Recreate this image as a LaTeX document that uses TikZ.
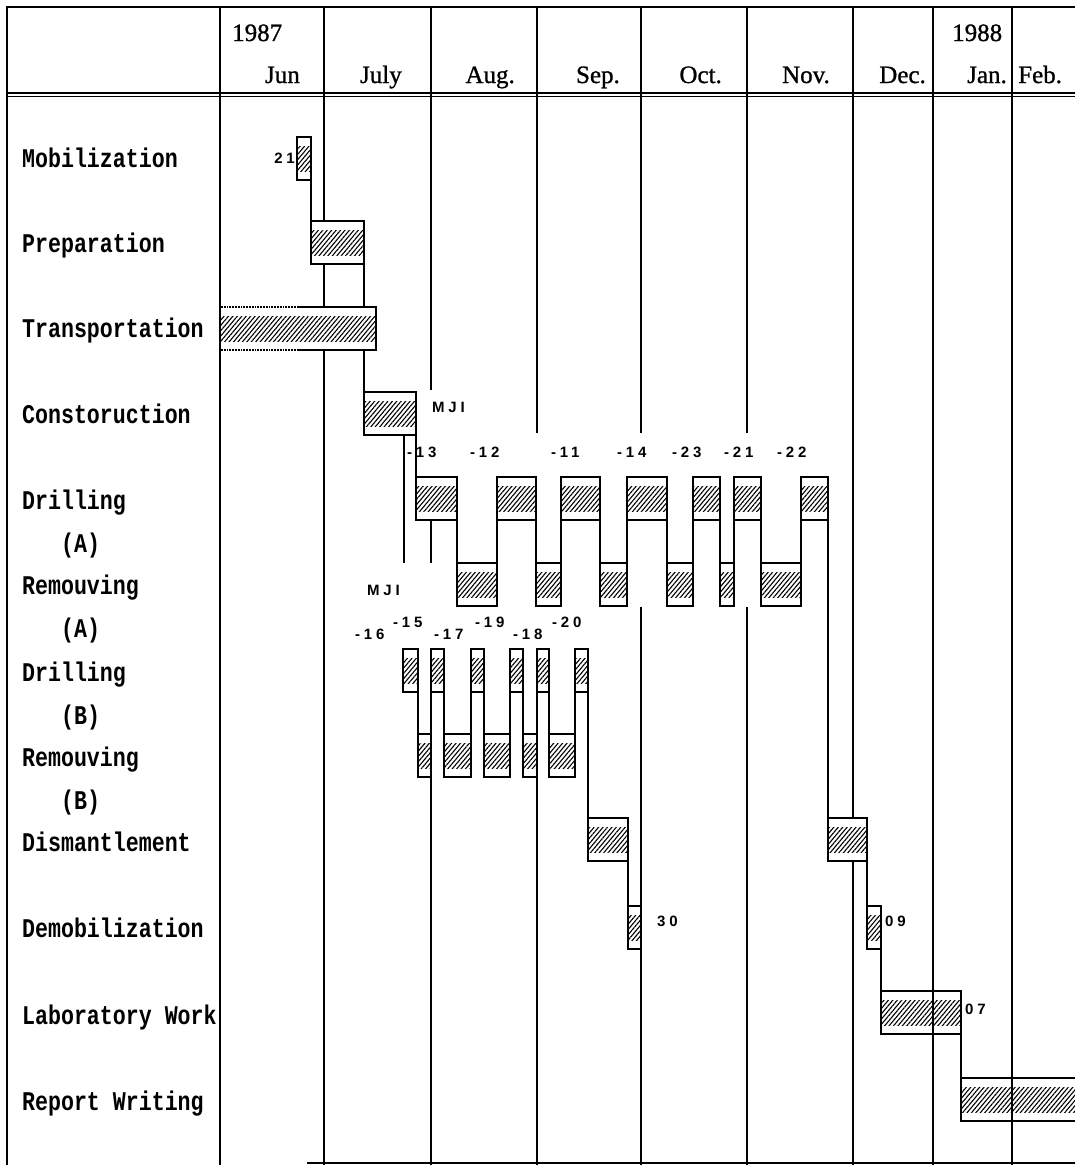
\documentclass[tikz,border=0pt]{standalone}
\usepackage{fontspec}
\usepackage{tikz}
\usetikzlibrary{patterns.meta}
\setmainfont{Liberation Serif}
\newfontfamily\headserif{Liberation Serif}[FakeBold=1]
\newfontfamily\labelmono{Liberation Mono}[FakeStretch=0.8]
\newfontfamily\tagsans{Liberation Sans}[LetterSpace=25]

\begin{document}
\begin{tikzpicture}[x=1pt, y=-1pt,
    gridline/.style={line width=2.3pt},
    boxline/.style={line width=1.8pt},
    linkline/.style={line width=1.9pt},
    hatchband/.style={path picture={\fill[pattern={Lines[angle=50,distance=3.4pt,line width=1.1pt]}]
        ([yshift=12.5pt]path picture bounding box.west) rectangle ([yshift=-12.5pt]path picture bounding box.east);}},
    taskbox/.style={boxline, draw, fill=white, inner sep=0pt, outer sep=0pt, minimum height=43pt, hatchband},
    openbox/.style={boxline, draw, inner sep=0pt, outer sep=0pt, minimum height=43pt, hatchband},
    rowlabel/.style={anchor=base west, inner sep=0pt, font=\labelmono\bfseries\fontsize{27}{30}\selectfont},
    monthlabel/.style={anchor=base east, inner sep=0pt, font=\headserif\fontsize{25}{28}\selectfont},
    tag/.style={anchor=west, inner sep=0pt, font=\tagsans\bfseries\fontsize{15}{17}\selectfont}]

    % Khung trang
    \useasboundingbox (0,0) rectangle (1075,1165);

    % Khung và đường kẻ cột
    \draw[gridline] (7,1165) -- (7,7) -- (1075,7);
    \draw[line width=1.3pt] (7,93) -- (1075,93);
    \draw[line width=1.3pt] (7,96.5) -- (1075,96.5);
    \foreach \x in {220,324,853,933,1012}
        \draw[gridline] (\x,7) -- (\x,1165);
    \foreach \x/\ya/\yb in {431/390/777, 537/433/777, 641/433/607, 747/433/607} {
        \draw[gridline] (\x,7) -- (\x,\ya);
        \draw[gridline] (\x,\yb) -- (\x,1165);
    }
    \draw[gridline] (307,1163) -- (1075,1163);

    % Tiêu đề tháng
    \node[monthlabel, anchor=base west] (y1987) at (232,41) {1987};
    \node[monthlabel, anchor=base west] (y1988) at (952,41) {1988};
    \foreach \nm/\x/\txt in {jun/300/Jun, jul/402/July, aug/515/Aug., sep/620/Sep., oct/722/Oct., nov/830/Nov., dec/926/Dec., jan/1007/Jan.}
        \node[monthlabel] (\nm) at (\x,83) {\txt};
    \node[monthlabel, anchor=base west] (feb) at (1018,83) {Feb.};

    % Nhãn hàng
    \foreach \nm/\lx/\ly/\lt in {lmob/22/167/Mobilization, lprep/22/252/Preparation, ltrans/22/337/Transportation,
            lconst/22/423/Constoruction, ldrA/22/509/Drilling, lA1/61/552/(A), lremA/22/594/Remouving, lA2/61/637/(A),
            ldrB/22/681/Drilling, lB1/61/724/(B), lremB/22/766/Remouving, lB2/61/809/(B), ldism/22/851/Dismantlement,
            ldemob/22/937/Demobilization, llab/22/1024/Laboratory Work, lrep/22/1110/Report Writing}
        \node[rowlabel] (\nm) at (\lx,\ly) {\lt};

    % Các thanh công việc (tên/x trái/x phải/y trên)
    \foreach \nm/\xa/\xb/\yt in {mob/297/311/137, prep/311/364/221, const/364/416/392,
            da1/416/457/477, da2/497/536/477, da3/561/600/477, da4/627/667/477, da5/693/720/477, da6/734/761/477, da7/801/828/477,
            ra1/457/497/563, ra2/536/561/563, ra3/600/627/563, ra4/667/693/563, ra5/720/734/563, ra6/761/801/563,
            db1/403/418/649, db2/431/444/649, db3/471/484/649, db4/510/523/649, db5/537/549/649, db6/575/588/649,
            rb1/418/431/734, rb2/444/471/734, rb3/484/510/734, rb4/523/537/734, rb5/549/575/734,
            dism1/588/628/818, dism2/828/867/818, demob1/628/641/906, demob2/867/881/906} {
        \pgfmathsetmacro{\w}{\xb-\xa}
        \node[taskbox, minimum width=\w pt] (\nm) at ({(\xa+\xb)/2},{\yt+21.5}) {};
    }
    \node[openbox, minimum width=80pt] (lab) at (921,1012.5) {};
    \node[openbox, minimum width=124pt] (rep) at (1023,1099.5) {};

    % Vận chuyển: viền trái chấm
    \node[fill=white, inner sep=0pt, outer sep=0pt, minimum height=43pt, minimum width=155pt, hatchband] (trans) at (298.5,328.5) {};
    \draw[boxline] ([xshift=76pt]trans.north west) -| (trans.south east) -- ([xshift=76pt]trans.south west);
    \draw[boxline, densely dotted] (trans.north west) -- ([xshift=76pt]trans.north west);
    \draw[boxline, densely dotted] (trans.south west) -- ([xshift=76pt]trans.south west);

    % Đường nối
    \coordinate (mjiB) at (404,563);
    \coordinate (startB) at (431,563);
    \draw[linkline] (mob.south east) -- (prep.north west);
    \draw[linkline] (prep.south east) -- (prep.south east |- trans.north);
    \draw[linkline] (const.north west |- trans.south) -- (const.north west);
    \draw[linkline] (const.south east) -- (da1.north west);
    \draw[linkline] (const.south -| mjiB) -- (mjiB);
    \draw[linkline] (da1.south -| startB) -- (startB);
    \foreach \a/\b in {da1/ra1, da2/ra2, da3/ra3, da4/ra4, da5/ra5, da6/ra6, db1/rb1, db2/rb2, db3/rb3, db4/rb4, db5/rb5}
        \draw[linkline] (\a.south east) -- (\b.north west);
    \foreach \a/\b in {ra1/da2, ra2/da3, ra3/da4, ra4/da5, ra5/da6, ra6/da7, rb1/db2, rb2/db3, rb3/db4, rb4/db5, rb5/db6}
        \draw[linkline] (\a.north east) -- (\b.south west);
    \draw[linkline] (da7.south east) -- (dism2.north west);
    \draw[linkline] (db6.south east) -- (dism1.north west);
    \draw[linkline] (dism1.south east) -- (demob1.north west);
    \draw[linkline] (dism2.south east) -- (demob2.north west);
    \draw[linkline] (demob2.south east) -- (lab.north west);
    \draw[linkline] (lab.south east) -- (rep.north west);

    % Nhãn nhỏ
    \node[tag, anchor=east] (t21) at (295,158) {21};
    \node[tag] (tmji1) at (432,407) {MJI};
    \node[tag] (tmji2) at (367,590) {MJI};
    \foreach \nm/\x/\y/\txt in {t13/407/452/-13, t12/470/452/-12, t11/551/452/-11, t14/617/452/-14, t23/672/452/-23,
            t21b/724/452/-21, t22/777/452/-22, t16/355/634/-16, t15/393/622/-15, t17/434/634/-17, t19/475/622/-19,
            t18/513/634/-18, t20/552/622/-20, t30/657/921/30, t09/885/921/09, t07/965/1009/07}
        \node[tag] (\nm) at (\x,\y) {\txt};
\end{tikzpicture}
\end{document}
